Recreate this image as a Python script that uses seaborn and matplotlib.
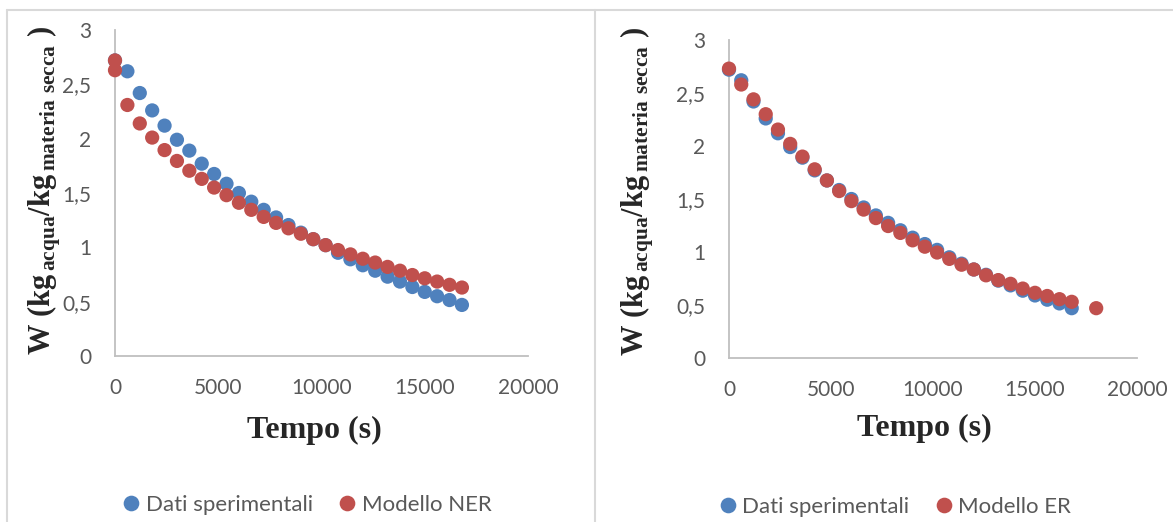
import pandas as pd
import seaborn as sns
import matplotlib.pyplot as plt
from matplotlib.lines import Line2D
from matplotlib.ticker import FuncFormatter

sns.set_theme(style='white')
plt.rcParams['font.family'] = ['Lato', 'DejaVu Sans']
plt.rcParams['mathtext.fontset'] = 'custom'
plt.rcParams['mathtext.rm'] = 'Liberation Serif'
plt.rcParams['mathtext.bf'] = 'Liberation Serif:bold'

# tempi di campionamento (s)
tempo = [0, 600, 1200, 1800, 2400, 3000, 3600, 4200, 4800, 5400, 6000, 6600,
         7200, 7800, 8400, 9000, 9600, 10200, 10800, 11400, 12000, 12600,
         13200, 13800, 14400, 15000, 15600, 16200, 16800]
w_sper = [2.72, 2.62, 2.42, 2.26, 2.12, 1.99, 1.89, 1.77, 1.675, 1.585, 1.50,
          1.42, 1.345, 1.275, 1.205, 1.135, 1.075, 1.02, 0.95, 0.89, 0.835,
          0.785, 0.73, 0.685, 0.635, 0.59, 0.55, 0.515, 0.47]

# modello NER (due punti a t=0)
tempo_ner = [0] + tempo
w_ner = [2.72, 2.63, 2.31, 2.14, 2.01, 1.895, 1.795, 1.705, 1.63, 1.55, 1.48,
         1.41, 1.345, 1.28, 1.225, 1.175, 1.125, 1.075, 1.02, 0.975, 0.935,
         0.895, 0.86, 0.82, 0.785, 0.745, 0.715, 0.685, 0.655, 0.63]

# modello ER (un punto in più a 18000 s)
tempo_er = tempo + [18000]
w_er = [2.73, 2.58, 2.44, 2.30, 2.155, 2.02, 1.90, 1.78, 1.675, 1.575, 1.48,
        1.40, 1.32, 1.245, 1.18, 1.11, 1.05, 0.995, 0.935, 0.88, 0.835, 0.78,
        0.735, 0.70, 0.655, 0.615, 0.585, 0.555, 0.53, 0.47]

x_ticks = [0, 5000, 10000, 15000, 20000]
y_ticks = [0, 0.5, 1, 1.5, 2, 2.5, 3]

blu, rosso = '#4F81BD', '#C0504D'
grigio = '#595959'

df_sper = pd.DataFrame({'Tempo': tempo, 'W': w_sper, 'serie': 'Dati sperimentali'})
df_ner = pd.concat([df_sper, pd.DataFrame({'Tempo': tempo_ner, 'W': w_ner, 'serie': 'Modello NER'})])
df_er = pd.concat([df_sper, pd.DataFrame({'Tempo': tempo_er, 'W': w_er, 'serie': 'Modello ER'})])

fig = plt.figure(figsize=(11.73, 5.22), dpi=100)
ax1 = fig.add_axes([115 / 1173, 1 - 356 / 522, 413 / 1173, 326 / 522])
ax2 = fig.add_axes([729 / 1173, 1 - 358 / 522, 408 / 1173, 318 / 522])

ylab = r'W (kg$_{\mathbf{\,acqua}}$/kg$_{\mathbf{\,materia\ secca}}$ )'

# asse, dati, nome modello, pos. etichetta y, pos. etichetta x, pos. legenda
panels = [(ax1, df_ner, 'Modello NER', (-0.125, 0.508), (0.483, -0.185), (0.465, -0.457)),
          (ax2, df_er, 'Modello ER', (-0.18, 0.525), (0.479, -0.177), (0.407, -0.469))]

for ax, df, nome, ylab_xy, xlab_xy, leg_xy in panels:
    sns.scatterplot(data=df, x='Tempo', y='W', hue='serie',
                    palette={'Dati sperimentali': blu, nome: rosso},
                    s=105, linewidth=0, alpha=1, ax=ax, clip_on=False, zorder=3)
    ax.set_xlim(0, 20000)
    ax.set_ylim(0, 3)
    ax.set_xticks(x_ticks)
    ax.set_yticks(y_ticks)
    ax.yaxis.set_major_formatter(FuncFormatter(lambda v, p: f'{v:g}'.replace('.', ',')))
    ax.tick_params(axis='both', length=0, labelsize=15, labelcolor=grigio)
    ax.tick_params(axis='x', pad=16)
    ax.tick_params(axis='y', pad=17)
    for s in ['top', 'right']:
        ax.spines[s].set_visible(False)
    for s in ['left', 'bottom']:
        ax.spines[s].set_color('#bfbfbf')
        ax.spines[s].set_linewidth(1.3)
    ax.set_xlabel('Tempo (s)', family='Liberation Serif', fontweight='bold',
                  fontsize=23, va='top')
    ax.xaxis.set_label_coords(*xlab_xy)
    ax.set_ylabel(ylab, family='Liberation Serif', fontweight='bold', fontsize=22)
    ax.yaxis.set_label_coords(*ylab_xy)
    sns.move_legend(ax, 'center', bbox_to_anchor=leg_xy, ncol=2, frameon=False,
                    title=None, fontsize=16, handlelength=0.8, handletextpad=0.25,
                    columnspacing=1.15, markerscale=1.1)
    for t in ax.get_legend().get_texts():
        t.set_color(grigio)

# cornici dei due grafici
bordo = '#d9d9d9'
fig.add_artist(Line2D([7 / 1173, 7 / 1173], [0, 1 - 10 / 522], color=bordo, lw=1.5))
fig.add_artist(Line2D([595 / 1173, 595 / 1173], [0, 1 - 10 / 522], color=bordo, lw=1.5))
fig.add_artist(Line2D([7 / 1173, 1], [1 - 10 / 522, 1 - 10 / 522], color=bordo, lw=1.5))

fig.savefig('out.png', dpi=100)
